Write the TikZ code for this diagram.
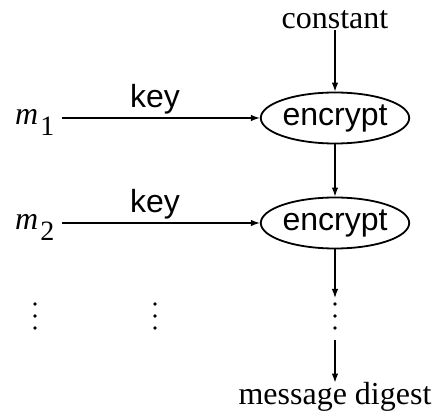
\documentclass[tikz,border=0pt]{standalone}
\usepackage{fontspec}
\setmainfont{Liberation Serif}
\setsansfont{Liberation Sans}
\usetikzlibrary{arrows.meta,shapes.geometric}
\begin{document}
\begin{tikzpicture}[x=1pt,y=-1pt,
  lbl/.style={font=\fontsize{32}{38}\selectfont, inner sep=0pt},
  mlbl/.style={font=\fontsize{32}{38}\selectfont, inner sep=0pt, anchor=base west},
  sanslbl/.style={font=\sffamily\fontsize{32}{38}\selectfont, inner sep=0pt},
  encbox/.style={draw, ellipse, line width=1.8pt, minimum width=145pt, minimum height=51pt, inner sep=0pt, font=\sffamily\fontsize{32}{38}\selectfont},
  conn/.style={draw, line width=1.2pt, -{Latex[length=9pt,width=6.5pt]}},
  dotty/.style={fill, circle, inner sep=0pt, minimum size=3.8pt}]
\useasboundingbox (0,0) rectangle (440,414);
\node[lbl, anchor=base] (const) at (335,29) {constant};
\node[encbox] (e1) at (335,118) {encrypt};
\node[encbox] (e2) at (335,223) {encrypt};
\node[mlbl] (m1) at (15,125) {\itshape m\kern2pt\raisebox{-11pt}{\upshape\fontsize{28}{34}\selectfont 1}};
\node[mlbl] (m2) at (15,230) {\itshape m\kern2pt\raisebox{-11pt}{\upshape\fontsize{28}{34}\selectfont 2}};
\node[sanslbl, anchor=base] (k1) at (155,108) {key};
\node[sanslbl, anchor=base] (k2) at (155,213) {key};
\coordinate (s1) at (62,118);
\coordinate (s2) at (62,223);
\node[lbl, anchor=base] (md) at (335,405) {message digest};
\coordinate (d3top) at (335,298);
\coordinate (d3bot) at (335,340);
\foreach \x/\n in {35/a,155/b,335/c}{
  \node[dotty] (\n1) at (\x,304) {};
  \node[dotty] (\n2) at (\x,316) {};
  \node[dotty] (\n3) at (\x,328) {};
}
\draw[conn] (const) -- (e1);
\draw[conn] (s1) -- (e1);
\draw[conn] (e1) -- (e2);
\draw[conn] (s2) -- (e2);
\draw[conn] (e2) -- (d3top);
\draw[conn] (d3bot) -- (md);
\end{tikzpicture}
\end{document}
